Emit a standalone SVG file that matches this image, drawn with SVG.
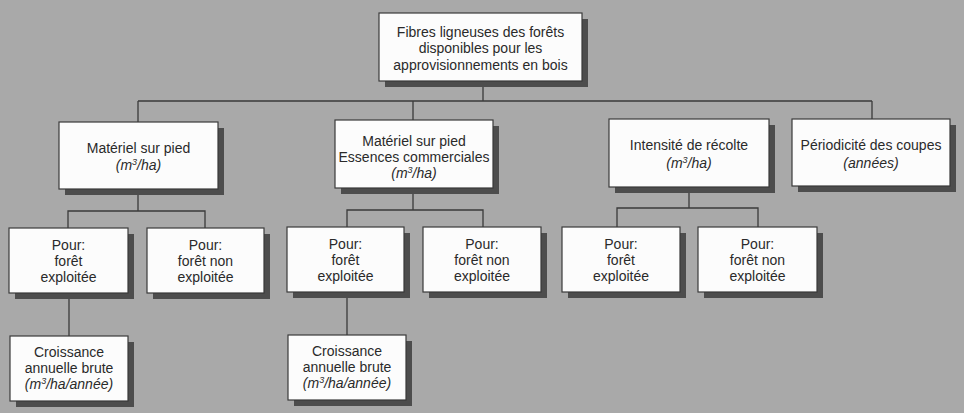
<svg xmlns="http://www.w3.org/2000/svg" width="964" height="413" viewBox="0 0 964 413">
<style>
.bg{fill:#a9a9a9}
.sh{fill:#4d4d4d}
.bx{fill:#fcfcfc;stroke:#3a3a3a;stroke-width:1.2}
.t{font-family:"Liberation Sans",Arial,sans-serif;font-size:14px;fill:#2a2a2a;text-anchor:middle}
.i{font-style:italic}
.c{fill:none;stroke:#3a3a3a;stroke-width:1.3}
</style>
<rect class="bg" x="0" y="0" width="964" height="413"/>
<g id="connectors">
<path class="c" d="M483,81 V101 M138,101 H872 M138,101 V122 M413,101 V120 M872,101 V119"/>
<path class="c" d="M138,189 V211 M68,228 V211 H205 V228"/>
<path class="c" d="M413,188 V210 M347,227 V210 H483 V227"/>
<path class="c" d="M689,187 V208 M617,227 V208 H758 V227"/>
<path class="c" d="M69,293 V336"/>
<path class="c" d="M347,292 V335"/>
</g>
<g id="root">
<rect class="sh" x="385" y="19" width="203" height="68"/>
<rect class="bx" x="379" y="13" width="203" height="68"/>
<text class="t" x="480.5" y="37">Fibres ligneuses des forêts</text>
<text class="t" x="480.5" y="53">disponibles pour les</text>
<text class="t" x="480.5" y="70">approvisionnements en bois</text>
</g>
<g id="n-materiel">
<rect class="sh" x="65" y="128" width="159" height="67"/>
<rect class="bx" x="59" y="122" width="159" height="67"/>
<text class="t" x="138.5" y="153">Matériel sur pied</text>
<text class="t i" x="138.5" y="170">(m<tspan font-size="9" dy="-5">3</tspan><tspan dy="5">/ha)</tspan></text>
</g>
<g id="n-materiel-ess">
<rect class="sh" x="341" y="126" width="158" height="68"/>
<rect class="bx" x="335" y="120" width="158" height="68"/>
<text class="t" x="414" y="146">Matériel sur pied</text>
<text class="t" x="414" y="162">Essences commerciales</text>
<text class="t i" x="414" y="178">(m<tspan font-size="9" dy="-5">3</tspan><tspan dy="5">/ha)</tspan></text>
</g>
<g id="n-intensite">
<rect class="sh" x="615" y="125" width="160" height="68"/>
<rect class="bx" x="609" y="119" width="160" height="68"/>
<text class="t" x="689" y="150">Intensité de récolte</text>
<text class="t i" x="689" y="168">(m<tspan font-size="9" dy="-5">3</tspan><tspan dy="5">/ha)</tspan></text>
</g>
<g id="n-periodicite">
<rect class="sh" x="798" y="125" width="158" height="67"/>
<rect class="bx" x="792" y="119" width="158" height="67"/>
<text class="t" x="871" y="150">Périodicité des coupes</text>
<text class="t i" x="871" y="168">(années)</text>
</g>
<g id="a1">
<rect class="sh" x="15" y="234" width="119" height="65"/>
<rect class="bx" x="9" y="228" width="119" height="65"/>
<text class="t" x="68.5" y="250">Pour:</text>
<text class="t" x="68.5" y="266">forêt</text>
<text class="t" x="68.5" y="282">exploitée</text>
</g>
<g id="a2">
<rect class="sh" x="153" y="234" width="117" height="65"/>
<rect class="bx" x="147" y="228" width="117" height="65"/>
<text class="t" x="205.5" y="250">Pour:</text>
<text class="t" x="205.5" y="266">forêt non</text>
<text class="t" x="205.5" y="282">exploitée</text>
</g>
<g id="b1">
<rect class="sh" x="293" y="233" width="117" height="65"/>
<rect class="bx" x="287" y="227" width="117" height="65"/>
<text class="t" x="345.5" y="249">Pour:</text>
<text class="t" x="345.5" y="265">forêt</text>
<text class="t" x="345.5" y="281">exploitée</text>
</g>
<g id="b2">
<rect class="sh" x="429" y="233" width="118" height="65"/>
<rect class="bx" x="423" y="227" width="118" height="65"/>
<text class="t" x="482" y="249">Pour:</text>
<text class="t" x="482" y="265">forêt non</text>
<text class="t" x="482" y="281">exploitée</text>
</g>
<g id="c1">
<rect class="sh" x="568" y="233" width="118" height="65"/>
<rect class="bx" x="562" y="227" width="118" height="65"/>
<text class="t" x="621" y="249">Pour:</text>
<text class="t" x="621" y="265">forêt</text>
<text class="t" x="621" y="281">exploitée</text>
</g>
<g id="c2">
<rect class="sh" x="704" y="233" width="119" height="65"/>
<rect class="bx" x="698" y="227" width="119" height="65"/>
<text class="t" x="757.5" y="249">Pour:</text>
<text class="t" x="757.5" y="265">forêt non</text>
<text class="t" x="757.5" y="281">exploitée</text>
</g>
<g id="a1-growth">
<rect class="sh" x="16" y="342" width="118" height="65"/>
<rect class="bx" x="10" y="336" width="118" height="65"/>
<text class="t" x="69" y="357">Croissance</text>
<text class="t" x="69" y="373">annuelle brute</text>
<text class="t i" x="69" y="389">(m<tspan font-size="9" dy="-5">3</tspan><tspan dy="5">/ha/année)</tspan></text>
</g>
<g id="b1-growth">
<rect class="sh" x="294" y="341" width="118" height="65"/>
<rect class="bx" x="288" y="335" width="118" height="65"/>
<text class="t" x="347" y="356">Croissance</text>
<text class="t" x="347" y="372">annuelle brute</text>
<text class="t i" x="347" y="388">(m<tspan font-size="9" dy="-5">3</tspan><tspan dy="5">/ha/année)</tspan></text>
</g>
</svg>
